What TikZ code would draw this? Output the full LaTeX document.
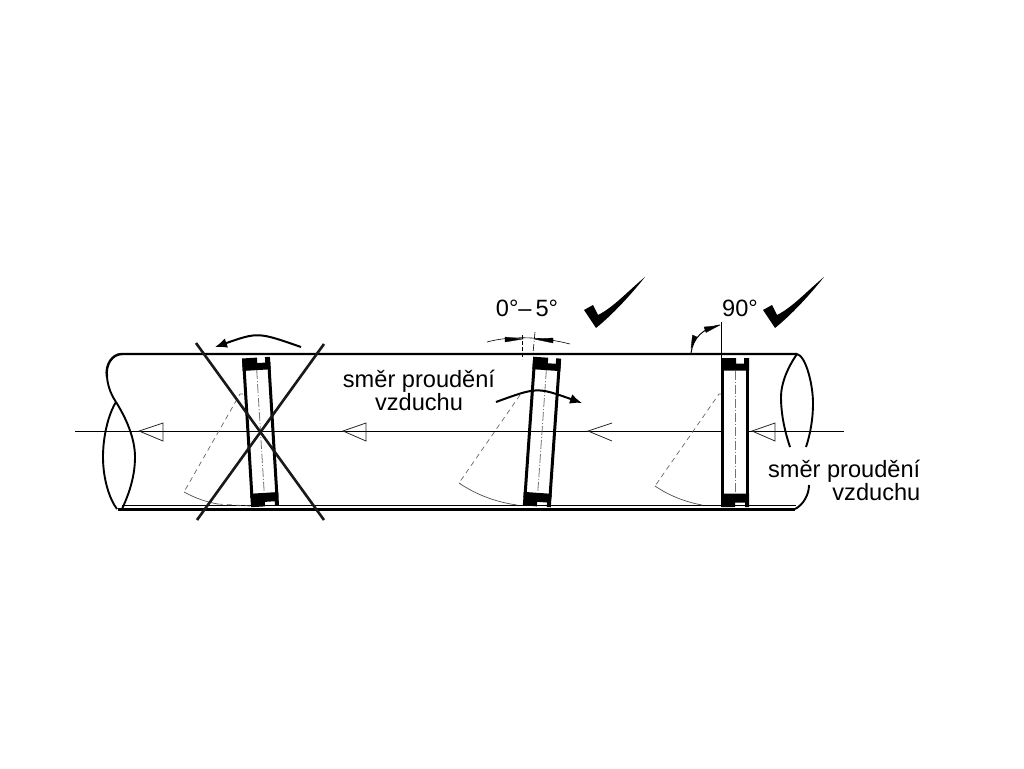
\documentclass[tikz,border=0pt]{standalone}
\usepackage{fontspec}
\setmainfont{Liberation Sans}
\usetikzlibrary{arrows.meta}
\tikzstyle{none}=[inner sep=0pt]
\tikzstyle{label}=[inner sep=0pt,align=center,font=\fontsize{23.6}{23}\selectfont]
\tikzstyle{wall}=[draw=black,line width=3pt]
\tikzstyle{thin}=[draw=black,line width=1pt]
\tikzstyle{rim}=[draw=black,line width=1.9pt]
\tikzstyle{swing}=[draw=black!60,line width=0.7pt,dash pattern=on 5pt off 4pt]
\tikzstyle{swingarc}=[draw=black!70,line width=0.7pt]
\tikzstyle{flow}=[draw=black!85,line width=0.8pt]
\tikzstyle{cross}=[draw=black!90,line width=2.6pt]
\tikzstyle{turn}=[draw=black,line width=2pt,-{Latex[length=12pt,width=10pt]}]
\tikzstyle{dim}=[draw=black,line width=0.6pt]
\tikzstyle{head}=[fill=black,draw=black,line width=0.3pt]
\tikzset{
	damper/.pic={
		\draw [wall] (-12.5,-70) -- (-12.5,66);
		\draw [wall] (12.5,-70) -- (12.5,66);
		\draw [draw=black!55,line width=0.8pt,dash pattern=on 9pt off 2pt on 1pt off 2pt] (0,-62) -- (0,60);
		\fill [black] (-14,-74.5) -- (1,-74.5) -- (1,-69) -- (9,-69) -- (9,-74.5) -- (14,-74.5) -- (14,-62) -- (-14,-62) -- cycle;
		\fill [black] (-14,61) -- (14,61) -- (14,74.5) -- (10,74.5) -- (10,70) -- (0,70) -- (0,74.5) -- (-14,74.5) -- cycle;
	},
	tick/.pic={
		\fill [black] (0,0) -- (9,-5) -- (14,5) .. controls (30,-3) and (45,-20) .. (61,-33) .. controls (45,-13) and (28,5) .. (12,18) -- cycle;
	}
}

\begin{document}
\begin{tikzpicture}[x=1pt,y=-1pt]
	\useasboundingbox (0,0) rectangle (1024,768);
	% tube
	\draw [line width=2.4pt] (107,377) .. controls (105,365) and (112,354) .. (122,354) -- (797,354);
	\draw [style=rim] (107,377) .. controls (108,388) and (112,396) .. (116,402);
	\draw [line width=3.4pt] (118,509.5) -- (795,509.5);
	\draw [style=thin] (122,505) -- (796,505);
	\draw [style=rim] (116,402) .. controls (108,415) and (103,437) .. (103,457) .. controls (103,480) and (110,500) .. (117,509);
	\draw [style=rim] (116,402) .. controls (126,418) and (135,438) .. (135,457) .. controls (135,478) and (128,496) .. (122,509);
	\draw [style=rim] (797,354) .. controls (786,370) and (781,385) .. (781,397) .. controls (781,415) and (785,432) .. (790,447);
	\draw [style=rim] (797,354) .. controls (806,356) and (813,385) .. (813,403) .. controls (813,420) and (810,435) .. (806,447);
	\draw [style=rim] (809,485) .. controls (809,495) and (803,505) .. (795,509);
	% axis
	\draw [style=thin] (75,431) -- (844,431);
	\draw [draw=white,line width=1.4pt] (724,431) -- (746,431);
	% flow arrows
	\draw [style=flow] (163,423) -- (139,431) -- (163,441) -- cycle;
	\draw [style=flow] (366,423) -- (343,431) -- (366,441) -- cycle;
	\draw [style=flow] (612,423) -- (588,431) -- (612,441);
	\draw [style=flow] (775,423) -- (752,431) -- (775,441) -- cycle;
	% swing sectors
	\draw [style=swing] (243,394) -- (240,394) -- (184,492);
	\draw [style=swingarc] (184,492) .. controls (195,498) and (206,502) .. (218,504);
	\draw [style=swing] (218,504) -- (250,506);
	\draw [style=swing] (520,395) -- (459,483);
	\draw [style=swingarc] (459,483) .. controls (475,494) and (495,502) .. (517,505);
	\draw [style=swing] (722,394) -- (719,394) -- (655,486);
	\draw [style=swingarc] (655,486) .. controls (668,495) and (685,502) .. (702,505);
	% dampers
	\pic [rotate=3.5] (leftdamper) at (260.5,432) {damper};
	\pic [rotate=-4] (middamper) at (542,432) {damper};
	\pic (rightdamper) at (735,432.5) {damper};
	% wrong mounting
	\draw [style=cross] (196,343) -- (324,520);
	\draw [style=cross] (324,344) -- (197,520);
	\draw [style=turn] (301,347) .. controls (258,332) .. (215,347);
	\draw [style=turn] (496,402) .. controls (537,387) .. (582,403);
	% tolerance
	\draw [style=dim,dash pattern=on 7pt off 2pt on 1pt off 2pt] (535,332) -- (533,353);
	\draw [style=dim,dash pattern=on 4pt off 2pt] (522,335) -- (522,359);
	\draw [style=dim] (487,342) .. controls (505,337) and (535,335) .. (570,344);
	\fill [style=head] (505,337) -- (523,339) -- (505,342) -- cycle;
	\fill [style=head] (553,338) -- (534,339) -- (553,343) -- cycle;
	% right angle
	\draw [style=thin] (721,322) -- (721,358);
	\draw [style=thin] (691,353) .. controls (693,338) and (703,328) .. (720,325);
	\fill [style=head] (691,348) -- (692.5,335) -- (697,337) -- cycle;
	\fill [style=head] (719,325.5) -- (704,327) -- (706,332.5) -- cycle;
	% marks
	\pic (tickmid) at (584,310) {tick};
	\pic (tickright) at (763,310) {tick};
	% texts
	\node [style=label] (angletol) at (527,308) {0°–\,5°};
	\node [style=label] (angleright) at (740,308) {90°};
	\node [style=label] (flowmid) at (419,390.5) {směr proudění\\vzduchu};
	\node [style=label,align=right,anchor=east] (flowright) at (920.5,480) {směr proudění\\vzduchu};
\end{tikzpicture}
\end{document}
